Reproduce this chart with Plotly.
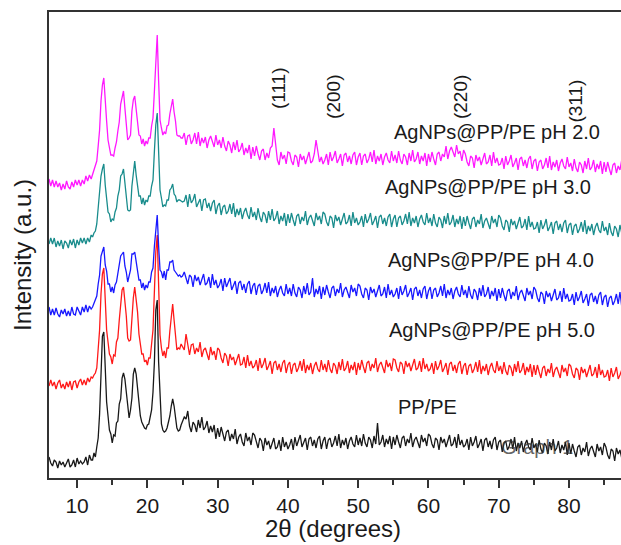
import numpy as np
import plotly.graph_objects as go

# 2-theta sampling grid (degrees): baseline, peak region, tail
two_theta_a = np.round(np.arange(6.0, 12.001, 0.25), 2)
two_theta_b = np.round(np.arange(12.2, 25.001, 0.2), 2)
two_theta_c = np.round(np.arange(25.25, 87.501, 0.25), 2)

# Intensities (a.u., stacked)
pp_pe_a = [21, 15, 12, 18, 16, 10, 17, 13, 16, 11, 15, 19, 11, 13, 18, 11, 20, 14, 17, 14,
           16, 21, 13, 23, 18]
pp_pe_b = [18, 25, 21, 31, 40, 64, 98, 142, 146, 110,
           76, 62, 48, 44, 35, 43, 42, 55, 57, 74,
           79, 100, 105, 99, 86, 70, 60, 68, 80, 104,
           110, 104, 88, 72, 62, 56, 53, 50, 49, 53,
           54, 61, 68, 86, 116, 168, 178, 116, 74, 54,
           48, 46, 47, 50, 56, 62, 72, 79, 72, 58,
           50, 47, 48, 53, 56]
pp_pe_c = [61, 59, 67, 52, 46, 56, 53, 46, 58, 50, 61, 48, 51, 57, 45, 52, 46, 53, 39, 50,
           41, 51, 43, 37, 46, 48, 37, 44, 39, 49, 34, 41, 44, 36, 32, 45, 37, 41, 33, 45,
           43, 35, 30, 40, 37, 27, 40, 33, 37, 29, 35, 40, 29, 31, 38, 27, 41, 31, 36, 29,
           33, 39, 28, 41, 32, 37, 43, 31, 35, 40, 28, 39, 41, 32, 38, 30, 39, 42, 29, 37,
           41, 29, 38, 40, 31, 35, 42, 32, 44, 30, 38, 33, 40, 29, 37, 41, 34, 31, 43, 33,
           40, 32, 44, 35, 31, 41, 38, 30, 42, 34, 55, 33, 36, 43, 31, 39, 34, 42, 29, 41,
           33, 43, 36, 30, 40, 42, 32, 39, 35, 45, 31, 38, 41, 34, 30, 43, 36, 40, 32, 44,
           42, 34, 30, 40, 38, 28, 41, 35, 39, 31, 37, 43, 32, 34, 41, 30, 44, 33, 38, 31,
           33, 39, 28, 41, 32, 36, 42, 30, 34, 39, 27, 38, 40, 31, 37, 29, 38, 41, 28, 36,
           38, 26, 35, 37, 28, 32, 39, 29, 41, 27, 35, 30, 37, 26, 34, 38, 31, 28, 40, 30,
           34, 26, 38, 29, 25, 35, 32, 24, 36, 28, 39, 27, 30, 37, 25, 33, 28, 36, 23, 35,
           24, 34, 27, 21, 31, 33, 23, 30, 26, 36, 22, 29, 32, 25, 21, 34, 27, 31, 23, 35,
           31, 23, 19, 29, 27, 17, 30, 24, 28, 20]

ph5_a = [92, 98, 92, 96, 89, 95, 98, 90, 94, 89, 96, 91, 97, 88, 96, 97, 90, 96, 99, 93,
         98, 93, 100, 96, 101]
ph5_b = [100, 103, 105, 110, 130, 148, 184, 204, 210, 176,
         148, 136, 124, 121, 114, 123, 122, 136, 140, 158,
         170, 188, 191, 178, 162, 140, 137, 138, 162, 180,
         191, 178, 166, 144, 136, 124, 124, 116, 118, 113,
         120, 120, 134, 148, 187, 226, 243, 192, 143, 130,
         122, 127, 120, 130, 130, 147, 158, 174, 158, 142,
         128, 130, 129, 134, 131]
ph5_c = [128, 144, 133, 123, 133, 134, 124, 130, 126, 136, 121, 128, 130, 123, 118, 131, 123, 127, 118, 130,
         128, 120, 115, 125, 122, 112, 124, 118, 121, 113, 118, 124, 113, 114, 121, 110, 123, 112, 117, 110,
         112, 118, 107, 120, 110, 114, 120, 108, 112, 117, 104, 115, 117, 108, 114, 106, 115, 118, 105, 113,
         116, 104, 113, 115, 106, 110, 117, 107, 119, 105, 113, 108, 115, 104, 112, 116, 109, 106, 118, 108,
         114, 106, 118, 109, 105, 115, 112, 104, 116, 108, 119, 107, 110, 117, 105, 113, 108, 116, 103, 115,
         108, 118, 111, 105, 115, 117, 107, 114, 110, 120, 106, 113, 116, 109, 105, 118, 111, 115, 107, 119,
         118, 110, 106, 116, 114, 104, 117, 111, 115, 107, 113, 119, 108, 110, 117, 106, 120, 109, 114, 107,
         109, 115, 104, 117, 108, 112, 118, 106, 110, 115, 103, 114, 116, 107, 113, 105, 114, 117, 104, 112,
         115, 103, 112, 114, 105, 109, 116, 106, 118, 104, 112, 107, 114, 103, 111, 115, 108, 105, 117, 107,
         112, 104, 116, 107, 103, 113, 110, 102, 114, 106, 117, 105, 108, 115, 103, 111, 106, 114, 101, 113,
         103, 113, 106, 100, 110, 112, 102, 109, 105, 115, 101, 108, 111, 104, 100, 113, 106, 110, 102, 114,
         112, 104, 100, 110, 108, 98, 111, 105, 109, 101, 107, 113, 102, 104, 111, 100, 114, 103, 108, 101,
         102, 108, 97, 110, 101, 105, 111, 99, 103, 108]

ph4_a = [171, 163, 169, 163, 170, 164, 161, 168, 164, 169, 162, 167, 162, 171, 164, 163, 171, 166, 163, 171,
         166, 173, 166, 172, 169]
ph4_b = [171, 175, 177, 182, 194, 203, 222, 227, 231, 213,
         207, 194, 194, 186, 191, 185, 193, 196, 204, 210,
         222, 224, 226, 212, 206, 196, 201, 208, 224, 224,
         226, 216, 210, 198, 198, 190, 195, 188, 193, 190,
         196, 196, 206, 210, 232, 253, 263, 232, 208, 206,
         200, 207, 198, 208, 208, 216, 216, 218, 208, 206,
         204, 202, 203, 201, 202]
ph4_c = [206, 200, 194, 203, 201, 191, 203, 197, 201, 193, 198, 204, 193, 195, 201, 190, 204, 193, 198, 190,
         193, 199, 187, 200, 191, 195, 200, 188, 192, 197, 184, 195, 197, 188, 194, 185, 194, 197, 184, 192,
         195, 183, 192, 194, 184, 188, 195, 185, 196, 182, 190, 185, 192, 181, 188, 192, 185, 182, 194, 184,
         190, 182, 194, 185, 181, 191, 188, 180, 192, 184, 195, 183, 186, 200, 181, 189, 184, 192, 179, 191,
         183, 193, 186, 180, 190, 192, 182, 189, 185, 195, 181, 188, 191, 184, 180, 193, 186, 190, 182, 194,
         192, 184, 180, 190, 188, 178, 191, 185, 189, 181, 187, 193, 182, 184, 191, 180, 194, 183, 188, 181,
         184, 190, 179, 192, 183, 187, 193, 181, 185, 190, 178, 189, 191, 182, 188, 180, 189, 192, 179, 187,
         191, 179, 188, 190, 181, 185, 192, 182, 194, 180, 188, 183, 190, 179, 187, 191, 184, 181, 193, 183,
         188, 180, 192, 183, 179, 189, 186, 178, 190, 182, 193, 181, 184, 191, 179, 187, 182, 190, 177, 189,
         180, 190, 183, 177, 187, 189, 179, 186, 182, 192, 178, 185, 188, 181, 177, 190, 183, 187, 179, 191,
         188, 180, 176, 186, 184, 174, 187, 181, 185, 177, 183, 189, 178, 180, 187, 176, 190, 179, 184, 177,
         178, 184, 173, 186, 177, 181, 187, 175, 179, 184, 172, 183, 185, 176, 182, 174, 183, 186, 173, 181,
         183, 171, 180, 182, 173, 177, 184, 174, 186, 172]

ph3_a = [234, 240, 234, 240, 231, 237, 232, 238, 229, 237, 235, 230, 238, 233, 239, 230, 238, 233, 240, 235,
         240, 234, 240, 236, 243]
ph3_b = [241, 245, 247, 254, 270, 283, 302, 309, 314, 293,
         282, 266, 264, 256, 259, 258, 266, 270, 282, 288,
         302, 304, 309, 294, 284, 268, 267, 268, 292, 306,
         317, 303, 294, 282, 282, 274, 280, 273, 278, 276,
         282, 282, 292, 298, 327, 353, 365, 322, 288, 280,
         271, 273, 272, 278, 278, 288, 290, 294, 284, 282,
         276, 278, 278, 277, 276]
ph3_c = [277, 283, 271, 284, 275, 278, 284, 271, 275, 279, 267, 278, 279, 270, 275, 267, 275, 278, 264, 272,
         275, 263, 271, 273, 264, 267, 274, 264, 275, 261, 269, 263, 270, 259, 266, 270, 263, 259, 271, 261,
         266, 258, 270, 261, 256, 266, 263, 255, 267, 258, 269, 257, 260, 267, 254, 262, 257, 265, 252, 264,
         255, 265, 258, 252, 262, 264, 254, 261, 257, 267, 253, 260, 263, 256, 252, 265, 258, 262, 254, 266,
         264, 256, 252, 262, 260, 250, 263, 257, 261, 253, 259, 265, 254, 256, 263, 252, 266, 255, 260, 253,
         256, 262, 251, 264, 255, 259, 265, 253, 257, 262, 250, 261, 263, 254, 260, 252, 261, 264, 251, 259,
         263, 251, 260, 262, 253, 257, 264, 254, 266, 252, 260, 255, 262, 251, 259, 263, 256, 253, 265, 255,
         260, 252, 264, 255, 251, 261, 258, 250, 262, 254, 265, 253, 256, 263, 251, 259, 254, 262, 249, 261,
         252, 262, 255, 249, 259, 261, 251, 258, 254, 264, 250, 257, 260, 253, 249, 262, 255, 259, 251, 263,
         260, 252, 248, 258, 256, 246, 259, 253, 257, 249, 255, 261, 250, 252, 259, 248, 262, 251, 256, 249,
         250, 256, 245, 258, 249, 253, 259, 247, 251, 256, 244, 255, 257, 248, 254, 246, 255, 258, 245, 253,
         255, 243, 252, 254, 245, 249, 256, 246, 258, 244, 252, 247, 254, 243, 251, 255, 248, 245, 257, 247,
         251, 243, 255, 246, 242, 252, 249, 241, 253, 245]

ph2_a = [299, 292, 298, 291, 297, 291, 295, 288, 294, 289, 297, 291, 289, 296, 291, 298, 293, 298, 292, 298,
         294, 302, 297, 303, 299]
ph2_b = [303, 307, 312, 317, 332, 348, 377, 393, 400, 373,
         357, 338, 332, 323, 323, 322, 330, 336, 347, 356,
         374, 382, 387, 370, 357, 338, 340, 343, 367, 378,
         382, 370, 360, 343, 342, 334, 339, 332, 337, 334,
         340, 340, 352, 360, 387, 423, 443, 397, 358, 350,
         343, 346, 344, 352, 353, 364, 370, 379, 366, 357,
         343, 342, 342, 340, 340]
ph2_c = [345, 333, 342, 343, 334, 338, 345, 334, 346, 332, 340, 335, 341, 330, 338, 342, 335, 331, 343, 333,
         338, 330, 341, 332, 327, 337, 333, 325, 336, 328, 338, 326, 329, 335, 323, 330, 325, 333, 319, 331,
         322, 332, 324, 318, 327, 329, 318, 325, 320, 330, 332, 350, 334, 318, 313, 326, 319, 323, 314, 326,
         325, 317, 313, 323, 321, 311, 324, 318, 322, 314, 320, 326, 315, 317, 324, 338, 327, 316, 321, 314,
         318, 324, 313, 326, 317, 321, 327, 315, 319, 324, 312, 323, 325, 316, 322, 314, 323, 326, 313, 321,
         325, 313, 322, 324, 315, 319, 326, 316, 328, 314, 322, 317, 324, 313, 321, 325, 318, 315, 327, 317,
         323, 315, 327, 318, 314, 324, 321, 313, 325, 317, 328, 316, 319, 326, 314, 322, 317, 325, 312, 324,
         316, 326, 319, 313, 324, 326, 317, 324, 321, 332, 319, 327, 331, 325, 321, 333, 324, 327, 317, 328,
         324, 316, 312, 322, 320, 310, 323, 317, 321, 313, 319, 325, 314, 316, 323, 312, 326, 315, 320, 313,
         314, 320, 309, 322, 313, 317, 323, 311, 315, 320, 308, 319, 321, 312, 318, 310, 319, 322, 309, 317,
         319, 307, 316, 318, 309, 313, 320, 310, 322, 308, 316, 311, 318, 307, 315, 319, 312, 309, 321, 311,
         315, 307, 319, 310, 306, 316, 313, 305, 317, 309, 320, 308, 311, 318, 306, 314, 309, 317, 304, 316,
         306, 316, 309, 303, 313, 315, 305, 312, 308, 318]

series_names = ["AgNPs@PP/PE pH 2.0", "AgNPs@PP/PE pH 5.0", "AgNPs@PP/PE pH 3.0",
                "AgNPs@PP/PE pH 4.0", "PP/PE"]
series_colors = ["#FF00FF", "#FF0000", "#008080", "#0000FF", "#000000"]
series_parts = [(ph2_a, ph2_b, ph2_c), (ph5_a, ph5_b, ph5_c), (ph3_a, ph3_b, ph3_c),
                (ph4_a, ph4_b, ph4_c), (pp_pe_a, pp_pe_b, pp_pe_c)]

x_all = np.concatenate([two_theta_a, two_theta_b, two_theta_c])

fig = go.Figure()
for name, color, (a, b, c) in zip(series_names, series_colors, series_parts):
    if (len(a), len(b), len(c)) != (len(two_theta_a), len(two_theta_b), len(two_theta_c)):
        raise ValueError(f"{name}: {len(a)},{len(b)},{len(c)} vs "
                         f"{len(two_theta_a)},{len(two_theta_b)},{len(two_theta_c)}")
    fig.add_trace(go.Scatter(x=x_all, y=list(a) + list(b) + list(c), mode="lines",
                             name=name, line=dict(color=color, width=1.3), opacity=0.9,
                             showlegend=False))

FONT = "Arial, Liberation Sans, sans-serif"
AX = "#333333"

# Series labels and Miller indices
labels = [("AgNPs@PP/PE pH 2.0", 69.7, 346), ("AgNPs@PP/PE pH 3.0", 68.5, 291),
          ("AgNPs@PP/PE pH 4.0", 68.9, 218), ("AgNPs@PP/PE pH 5.0", 69.0, 148),
          ("PP/PE", 59.9, 71)]
miller = [("(111)", 38.6, 390), ("(200)", 46.4, 381), ("(220)", 64.5, 381), ("(311)", 80.8, 377)]

annotations = []
for t, x, y in labels:
    annotations.append(dict(text=t, x=x, y=y, xref="x", yref="y", showarrow=False,
                            font=dict(family=FONT, size=20, color="#1a1a1a")))
for t, x, y in miller:
    annotations.append(dict(text=t, x=x, y=y, xref="x", yref="y", showarrow=False,
                            textangle=-90, font=dict(family=FONT, size=19, color="#1a1a1a")))
annotations.append(dict(text="Graph 1", x=75.4, y=31, xref="x", yref="y", showarrow=False,
                        opacity=0.75, font=dict(family=FONT, size=20, color="#333333")))
annotations.append(dict(text="2θ (degrees)", x=0.4965, y=0, xref="paper", yref="paper",
                        xanchor="center", yanchor="middle", yshift=-50, showarrow=False,
                        font=dict(family=FONT, size=24, color="#1a1a1a")))
annotations.append(dict(text="Intensity (a.u.)", x=0, y=0.4785, xref="paper", yref="paper",
                        xanchor="center", yanchor="middle", xshift=-27, textangle=-90,
                        showarrow=False, font=dict(family=FONT, size=24, color="#1a1a1a")))

fig.update_layout(
    width=621, height=545,
    margin=dict(l=49, r=0, t=12, b=67),
    paper_bgcolor="white", plot_bgcolor="white",
    annotations=annotations,
    xaxis=dict(range=[6, 87.4], showgrid=False, zeroline=False,
               showline=True, linecolor=AX, linewidth=1.5, mirror=True,
               ticks="outside", ticklen=8, tickwidth=1.5, tickcolor=AX,
               tick0=0, dtick=10,
               minor=dict(ticks="outside", ticklen=5, tickwidth=1.5, tickcolor=AX,
                          tick0=0, dtick=5),
               tickfont=dict(family=FONT, size=21, color="#1a1a1a")),
    yaxis=dict(range=[0, 466], showgrid=False, zeroline=False,
               showline=True, linecolor=AX, linewidth=1.5,
               showticklabels=False, ticks=""),
)

fig.write_html("out.html")
